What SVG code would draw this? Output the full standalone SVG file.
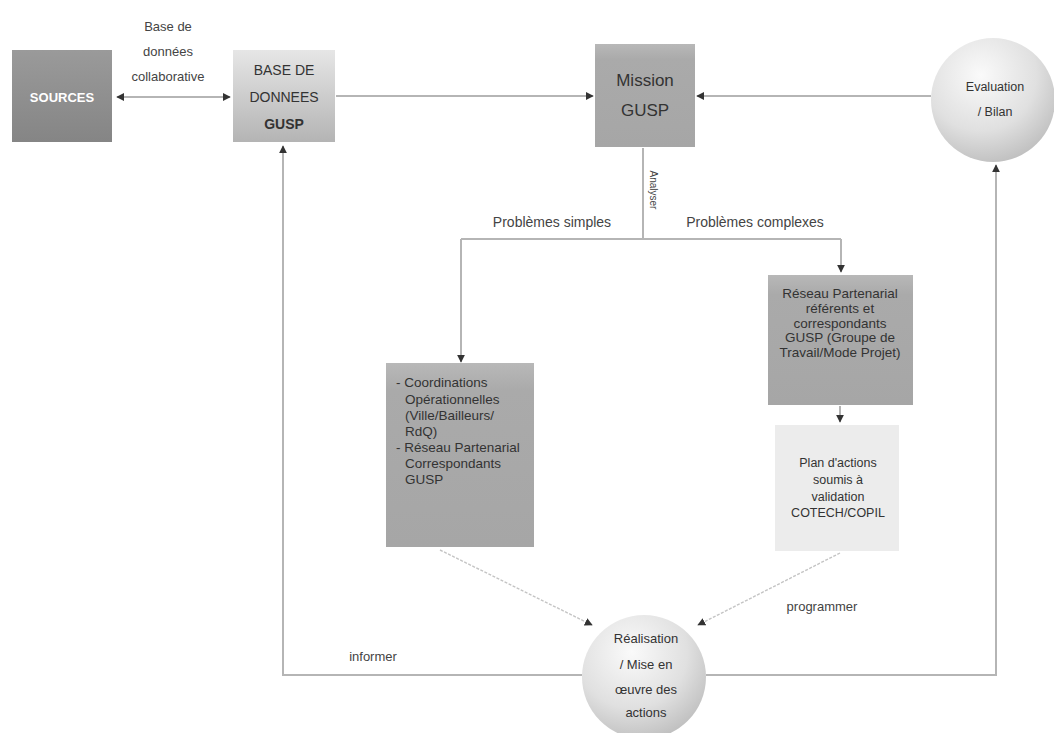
<svg xmlns="http://www.w3.org/2000/svg" width="1054" height="733" viewBox="0 0 1054 733">
<style>
text{font-family:"Liberation Sans",Arial,sans-serif;fill:#333;}
.lbl{font-size:13px;text-anchor:middle;fill:#444;}
.nt{font-size:13px;text-anchor:middle;}
.line{fill:none;stroke:#b5b5b5;stroke-width:2;}
.thin{fill:none;stroke:#c4c4c4;stroke-width:1.4;stroke-dasharray:3 1.5;}
</style>
<defs>
<marker id="ah" viewBox="0 0 10 10" refX="9" refY="5" markerWidth="8" markerHeight="8" orient="auto-start-reverse" markerUnits="userSpaceOnUse">
<path d="M0,0 L10,5 L0,10 z" fill="#333"/>
</marker>
<linearGradient id="gLight" x1="0" y1="0" x2="0" y2="1">
<stop offset="0" stop-color="#e6e6e6"/><stop offset="1" stop-color="#b4b4b4"/>
</linearGradient>
<linearGradient id="gMid" x1="0" y1="0" x2="0" y2="1">
<stop offset="0" stop-color="#b8b8b8"/><stop offset="0.15" stop-color="#aaaaaa"/><stop offset="1" stop-color="#a6a6a6"/>
</linearGradient>
<linearGradient id="gDark" x1="0" y1="0" x2="0" y2="1">
<stop offset="0" stop-color="#9a9a9a"/><stop offset="1" stop-color="#858585"/>
</linearGradient>
<radialGradient id="gBall" cx="0.4" cy="0.3" r="0.75">
<stop offset="0" stop-color="#fafafa"/><stop offset="0.6" stop-color="#e0e0e0"/><stop offset="1" stop-color="#bdbdbd"/>
</radialGradient>
</defs>

<g id="connectors">
<line class="line" x1="117" y1="97" x2="230" y2="97" marker-start="url(#ah)" marker-end="url(#ah)"/>
<line class="line" x1="336" y1="96" x2="593" y2="96" marker-end="url(#ah)"/>
<line class="line" x1="931" y1="96" x2="697" y2="96" marker-end="url(#ah)"/>
<polyline class="line" points="643,148 643,239"/>
<polyline class="line" points="461,239 841,239"/>
<polyline class="line" points="461,239 461,362" marker-end="url(#ah)"/>
<polyline class="line" points="841,239 841,272" marker-end="url(#ah)"/>
<line class="line" x1="840" y1="406" x2="840" y2="422" marker-end="url(#ah)"/>
<line class="thin" x1="440" y1="550" x2="592" y2="625" marker-end="url(#ah)"/>
<line class="thin" x1="840" y1="553" x2="698" y2="625" marker-end="url(#ah)"/>
<polyline class="line" points="582,675 283,675 283,146" marker-end="url(#ah)"/>
<polyline class="line" points="706,675 996,675 996,165" marker-end="url(#ah)"/>
<text class="lbl" x="168" y="31">Base de</text>
<text class="lbl" x="168" y="56">données</text>
<text class="lbl" x="168" y="81">collaborative</text>
<text class="lbl" x="552" y="227" style="font-size:14px">Problèmes simples</text>
<text class="lbl" x="755" y="227" style="font-size:14px">Problèmes complexes</text>
<text class="lbl" x="0" y="0" style="font-size:10px" transform="translate(650,190) rotate(90)">Analyser</text>
<text class="lbl" x="373" y="661">informer</text>
<text class="lbl" x="822" y="611">programmer</text>
</g>

<g id="sources">
<rect x="12" y="50" width="100" height="92" fill="url(#gDark)"/>
<text class="nt" x="62" y="102" style="fill:#fff;font-weight:bold;font-size:13px">SOURCES</text>
</g>

<g id="base">
<rect x="233" y="50" width="102" height="92" fill="url(#gLight)"/>
<text class="nt" x="284" y="75" style="font-size:14px">BASE DE</text>
<text class="nt" x="284" y="102" style="font-size:14px">DONNEES</text>
<text class="nt" x="284" y="129" style="font-size:14px;font-weight:bold">GUSP</text>
</g>

<g id="mission">
<rect x="595" y="44" width="100" height="103" fill="url(#gMid)"/>
<text class="nt" x="645" y="86" style="font-size:17px">Mission</text>
<text class="nt" x="645" y="116" style="font-size:17px">GUSP</text>
</g>

<g id="evaluation">
<circle cx="993" cy="100" r="62" fill="url(#gBall)"/>
<text class="nt" x="995" y="91" style="font-size:12.5px">Evaluation</text>
<text class="nt" x="995" y="116" style="font-size:12.5px">/ Bilan</text>
</g>

<g id="coordinations">
<rect x="386" y="363" width="148" height="184" fill="url(#gMid)"/>
<g style="font-size:13.5px">
<text x="396" y="387">- Coordinations</text>
<text x="405" y="404">Opérationnelles</text>
<text x="405" y="420">(Ville/Bailleurs/</text>
<text x="405" y="436">RdQ)</text>
<text x="396" y="452">- Réseau Partenarial</text>
<text x="405" y="468">Correspondants</text>
<text x="405" y="484">GUSP</text>
</g>
</g>

<g id="reseau">
<rect x="768" y="275" width="145" height="130" fill="url(#gMid)"/>
<text class="nt" x="840" y="298" style="font-size:13.5px">Réseau Partenarial</text>
<text class="nt" x="840" y="313" style="font-size:13.5px">référents et</text>
<text class="nt" x="840" y="328" style="font-size:13.5px">correspondants</text>
<text class="nt" x="840" y="342" style="font-size:13.5px">GUSP (Groupe de</text>
<text class="nt" x="840" y="357" style="font-size:13.5px">Travail/Mode Projet)</text>
</g>

<g id="plan">
<rect x="775" y="425" width="124" height="126" fill="#ececec"/>
<text class="nt" x="838" y="467" style="font-size:12.5px">Plan d'actions</text>
<text class="nt" x="838" y="484" style="font-size:12.5px">soumis à</text>
<text class="nt" x="838" y="501" style="font-size:12.5px">validation</text>
<text class="nt" x="838" y="517" style="font-size:12.5px">COTECH/COPIL</text>
</g>

<g id="realisation">
<circle cx="644" cy="677" r="62" fill="url(#gBall)"/>
<text class="nt" x="646" y="643" style="font-size:13px">Réalisation</text>
<text class="nt" x="646" y="669" style="font-size:13px">/ Mise en</text>
<text class="nt" x="646" y="694" style="font-size:13px">œuvre des</text>
<text class="nt" x="646" y="717" style="font-size:13px">actions</text>
</g>
</svg>
